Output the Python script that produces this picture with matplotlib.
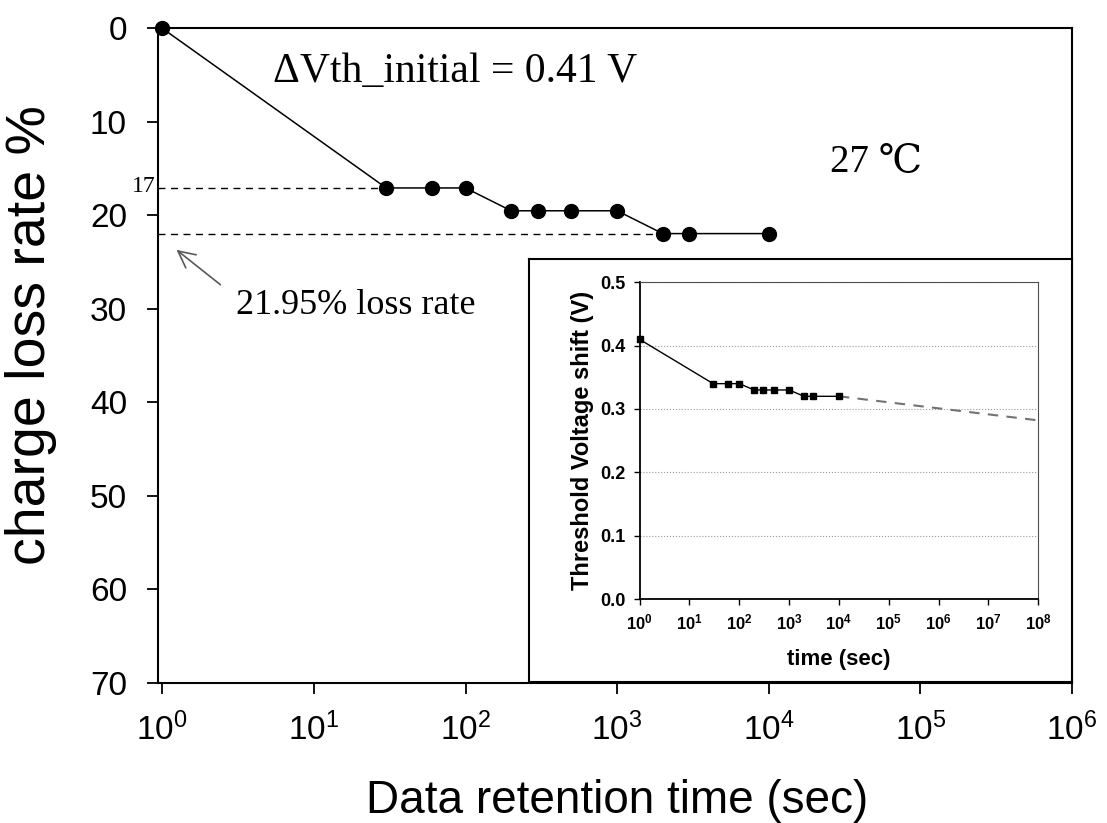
import numpy as np
import matplotlib
matplotlib.use('Agg')
import matplotlib.pyplot as plt
from matplotlib.ticker import NullLocator, FixedLocator, FixedFormatter

plt.rcParams['font.family'] = ['Liberation Sans', 'DejaVu Sans']
plt.rcParams['mathtext.fontset'] = 'custom'
plt.rcParams['mathtext.rm'] = 'Liberation Sans'
plt.rcParams['mathtext.bf'] = 'Liberation Sans:bold'

# Datos
t_sec = [1, 30, 60, 100, 200, 300, 500, 1000, 2000, 3000, 10000]
loss_pct = [0, 17.07, 17.07, 17.07, 19.51, 19.51, 19.51, 19.51, 21.95, 21.95, 21.95]
vth_shift = [0.41, 0.34, 0.34, 0.34, 0.33, 0.33, 0.33, 0.33, 0.32, 0.32, 0.32]
extrap_t = [1e4, 1e8]
extrap_v = [0.32, 0.282]

main_yticks = [0, 10, 20, 30, 40, 50, 60, 70]
main_xticks = [1e0, 1e1, 1e2, 1e3, 1e4, 1e5, 1e6]
inset_xticks = [10.0**k for k in range(9)]
inset_xlabels = [r'$\mathbf{10^{%d}}$' % k for k in range(9)]
inset_yticks = [0.0, 0.1, 0.2, 0.3, 0.4, 0.5]

W, H = 1107, 823
fig = plt.figure(figsize=(W/100, H/100), dpi=100)

def box(l, t, r, b):
    return [l/W, 1 - b/H, (r - l)/W, (b - t)/H]

#Grafico principal
ax = fig.add_axes(box(157.5, 28.3, 1072, 683))
ax.set_xscale('log')
ax.set_xlim(0.93, 1e6)
ax.set_ylim(70, 0)
ax.xaxis.set_major_locator(FixedLocator(main_xticks))
ax.xaxis.set_minor_locator(NullLocator())
ax.set_yticks(main_yticks)
ax.tick_params(direction='out', length=8, width=1.3, labelsize=24)
ax.tick_params(axis='x', pad=13)
ax.tick_params(axis='y', pad=14)
for s in ax.spines.values():
    s.set_linewidth(1.5)

ax.plot(t_sec, loss_pct, color='k', lw=1.1, marker='o', markersize=10, zorder=3, clip_on=False)
x0 = ax.get_xlim()[0]
ax.plot([x0, t_sec[1]], [loss_pct[1], loss_pct[1]], color='k', lw=1, dashes=(5, 4))
ax.plot([x0, t_sec[8]], [loss_pct[8], loss_pct[8]], color='k', lw=1, dashes=(5, 4))

ax.annotate('17', xy=(0, loss_pct[1]), xycoords=('axes fraction', 'data'),
            xytext=(-1.5, 1), textcoords='offset points', ha='right', va='center',
            fontsize=17, family=['Liberation Serif', 'DejaVu Serif'])
ax.annotate('', xy=(1.2, 23.5), xytext=(2.5, 27.6),
            arrowprops=dict(arrowstyle='->', color='0.35', lw=1.2, mutation_scale=30))
ax.text(3.05, 30.6, '21.95% loss rate', fontsize=26, va='baseline', ha='left',
        family=['Liberation Serif', 'DejaVu Serif'])
ax.text(5.35, 5.74, '\u0394Vth_initial = 0.41 V', fontsize=30, va='baseline', ha='left',
        family=['Liberation Serif', 'DejaVu Serif'])
ax.text(25500, 15.4, '27 \u2103', fontsize=28, va='baseline', ha='left',
        family=['Liberation Serif', 'DejaVu Serif', 'Noto Sans CJK SC'])

fig.text(31/W, 1 - 335/H, 'charge loss rate %', rotation=90, ha='center', va='center', fontsize=40)
fig.text(616.7/W, 1 - 813/H, 'Data retention time (sec)', ha='center', va='baseline', fontsize=33)

#Recuadro del grafico interior
bax = fig.add_axes(box(529, 259.3, 1072, 682))
bax.set_xticks([])
bax.set_yticks([])
bax.set_facecolor('white')
for s in bax.spines.values():
    s.set_linewidth(1.5)

iax = fig.add_axes(box(639.5, 282.3, 1038.3, 599))
iax.set_xscale('log')
iax.set_xlim(1, 1e8)
iax.set_ylim(0, 0.5)
iax.xaxis.set_major_locator(FixedLocator(inset_xticks))
iax.xaxis.set_major_formatter(FixedFormatter(inset_xlabels))
iax.xaxis.set_minor_locator(NullLocator())
iax.set_yticks(inset_yticks)
iax.set_yticklabels(['%.1f' % v for v in inset_yticks], fontweight='bold')
iax.tick_params(direction='out', length=4, width=1, labelsize=13, pad=6)
iax.tick_params(axis='x', labelsize=12)
iax.grid(axis='y', color='0.6', ls=':', lw=0.8)
for k in ['top', 'right']:
    iax.spines[k].set_linewidth(0.8)
    iax.spines[k].set_color('0.3')
for k in ['left', 'bottom']:
    iax.spines[k].set_linewidth(1.3)
iax.plot(t_sec, vth_shift, color='k', lw=1, marker='s', markersize=5, zorder=3, clip_on=False)
iax.plot(extrap_t, extrap_v, color='0.45', lw=1.5, dashes=(5, 4))

fig.text(582/W, 1 - 440/H, 'Threshold Voltage shift (V)', rotation=90, ha='center', va='center',
         fontsize=17, fontweight='bold')
fig.text(839/W, 1 - 660/H, 'time (sec)', ha='center', va='center', fontsize=16, fontweight='bold')

fig.savefig('out.png', dpi=100)
